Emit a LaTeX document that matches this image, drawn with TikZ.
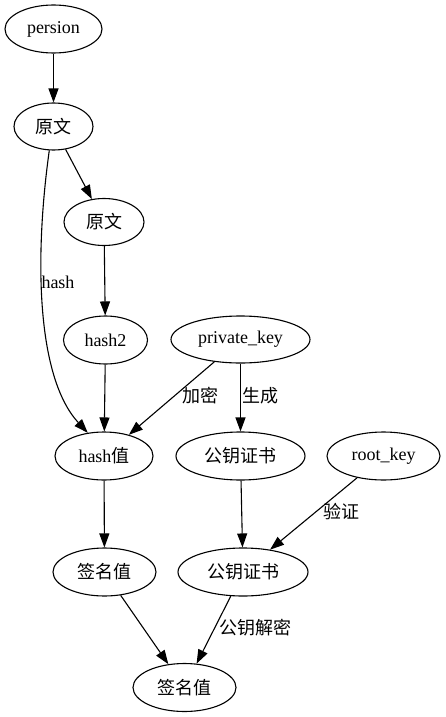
\documentclass[tikz,border=0pt]{standalone}
\usepackage{fontspec}
\setmainfont{Liberation Serif}
\newfontfamily\cjk{Noto Sans CJK SC}
\usetikzlibrary{shapes.geometric,arrows.meta}
\tikzset{
  gnode/.style={draw=black,ellipse,line width=1.1pt,inner sep=0pt,font=\fontsize{18}{20}\selectfont},
  elabel/.style={inner sep=0pt,font=\fontsize{18}{20}\selectfont},
  garrow/.style={draw=black,line width=1.1pt,-{Triangle[length=14pt,width=10pt]}},
}
\begin{document}
\begin{tikzpicture}[x=1pt,y=-1pt]
\useasboundingbox (0,0) rectangle (446,717);
\node[gnode,minimum width=97pt,minimum height=48pt] (persion) at (53.5,29) {persion};
\node[gnode,minimum width=79pt,minimum height=47pt] (yw1) at (53.5,126.5) {\cjk 原文};
\node[gnode,minimum width=80pt,minimum height=47pt] (yw2) at (104,222) {\cjk 原文};
\node[gnode,minimum width=84pt,minimum height=48pt] (hash2) at (105.5,340) {hash2};
\node[gnode,minimum width=139pt,minimum height=47pt] (pk) at (240.5,339.5) {private\_key};
\node[gnode,minimum width=98pt,minimum height=48pt] (hv) at (104,456) {hash{\cjk 值}};
\node[gnode,minimum width=129pt,minimum height=48pt] (gy1) at (240.5,456) {\cjk 公钥证书};
\node[gnode,minimum width=113pt,minimum height=48pt] (rk) at (383.5,456) {root\_key};
\node[gnode,minimum width=103pt,minimum height=48pt] (qm1) at (104.5,572) {\cjk 签名值};
\node[gnode,minimum width=130pt,minimum height=48pt] (gy2) at (243,572) {\cjk 公钥证书};
\node[gnode,minimum width=103pt,minimum height=48pt] (qm2) at (184.5,687.5) {\cjk 签名值};

\draw[garrow] (persion) -- (yw1);
\draw[garrow] (yw1) -- (yw2);
\draw[garrow] (yw1.-100) .. controls (34,260) and (37,378) .. (hv.125);
\node[elabel] (lhash) at (58,282) {hash};
\draw[garrow] (yw2) -- (hash2);
\draw[garrow] (hash2) -- (hv);
\draw[garrow] (pk) -- (hv);
\node[elabel] (ljm) at (200,396) {\cjk 加密};
\draw[garrow] (pk) -- (gy1);
\node[elabel] (lsc) at (260,396) {\cjk 生成};
\draw[garrow] (hv) -- (qm1);
\draw[garrow] (gy1) -- (gy2);
\draw[garrow] (rk) -- (gy2);
\node[elabel] (lyz) at (341,512) {\cjk 验证};
\draw[garrow] (qm1) -- (qm2);
\draw[garrow] (gy2) -- (qm2);
\node[elabel] (ljiemi) at (255,628) {\cjk 公钥解密};
\end{tikzpicture}
\end{document}
